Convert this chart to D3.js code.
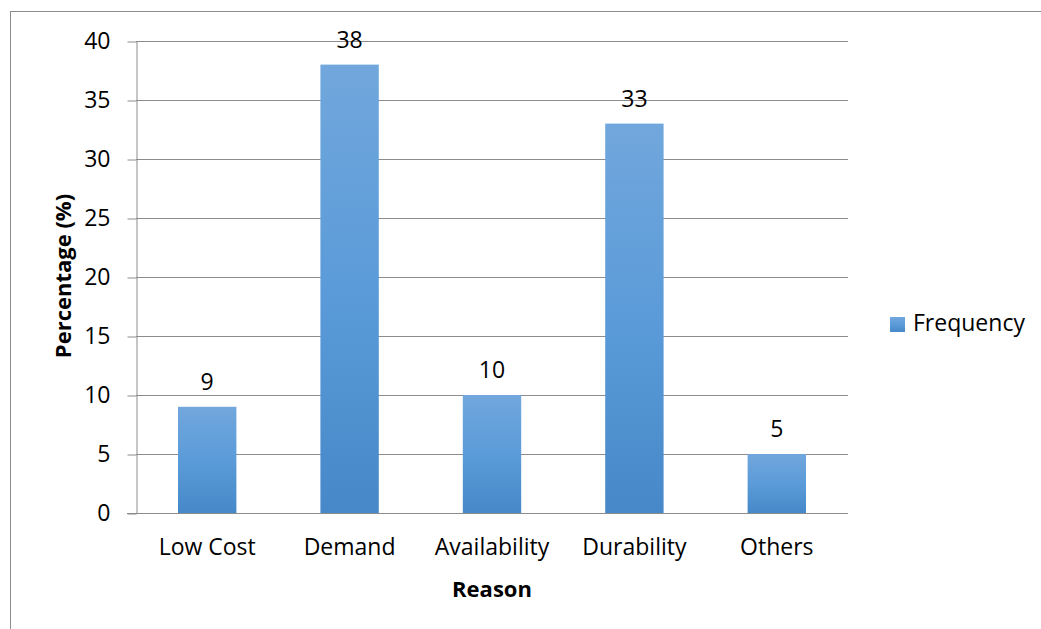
<!DOCTYPE html>
<html>
<head>
<meta charset="utf-8">
<script src="https://cdn.jsdelivr.net/npm/d3@7"></script>
<style>
  html, body { margin: 0; padding: 0; background: #fff; }
  svg { display: block; font-family: "Open Sans", sans-serif; }
</style>
</head>
<body>
<svg id="chart" width="1041" height="629"></svg>
<script>
// Reasons and their share of responses (%)
const categories = ["Low Cost", "Demand", "Availability", "Durability", "Others"];
const frequency = [9, 38, 10, 33, 5];
const yTicks = [0, 5, 10, 15, 20, 25, 30, 35, 40];
const seriesName = "Frequency";

const svg = d3.select("#chart");
const W = 1041, H = 629;
const plot = { left: 136, right: 848, top: 41, bottom: 513 };
const labelSize = 23;

// Outer chart frame
svg.append("rect")
  .attr("x", 10.5).attr("y", 11.5)
  .attr("width", W + 20).attr("height", H + 20)
  .attr("fill", "#fff").attr("stroke", "#8c8c8c").attr("stroke-width", 1);

// Bar gradient: lighter at the top, deeper blue at the base
const defs = svg.append("defs");
const grad = defs.append("linearGradient")
  .attr("id", "barFill").attr("x1", 0).attr("y1", 0).attr("x2", 0).attr("y2", 1);
grad.append("stop").attr("offset", "0%").attr("stop-color", "#71a7dc");
grad.append("stop").attr("offset", "50%").attr("stop-color", "#5b9bd9");
grad.append("stop").attr("offset", "100%").attr("stop-color", "#4688c8");

const x = d3.scaleBand()
  .domain(categories)
  .range([plot.left, plot.right])
  .paddingInner(0.59)
  .paddingOuter(0.295);

const y = d3.scaleLinear()
  .domain([0, 40])
  .range([plot.bottom, plot.top]);

// Horizontal gridlines
svg.append("g")
  .selectAll("line")
  .data(yTicks.filter(d => d > 0))
  .join("line")
  .attr("x1", plot.left).attr("x2", plot.right)
  .attr("y1", d => Math.round(y(d)) + 0.5).attr("y2", d => Math.round(y(d)) + 0.5)
  .attr("stroke", "#8c8c8c").attr("stroke-width", 1);

// Y axis with outward ticks
const yAxis = svg.append("g")
  .attr("transform", `translate(${plot.left + 0.5},0.5)`)
  .call(d3.axisLeft(y).tickValues(yTicks).tickSize(9).tickPadding(17).tickSizeOuter(0));
yAxis.select(".domain").attr("stroke", "#8c8c8c");
yAxis.selectAll(".tick line").attr("stroke", "#8c8c8c");
yAxis.selectAll(".tick text")
  .attr("font-family", "Open Sans, sans-serif")
  .attr("font-size", labelSize).attr("fill", "#000");

// X axis baseline
const xAxis = svg.append("g")
  .attr("transform", `translate(0,${plot.bottom + 0.5})`)
  .call(d3.axisBottom(x).tickSize(0).tickPadding(25).tickSizeOuter(0));
xAxis.select(".domain").attr("stroke", "#8c8c8c").attr("d", `M${plot.left - 9},0H${plot.right}`);
xAxis.selectAll(".tick text")
  .attr("font-family", "Open Sans, sans-serif")
  .attr("font-size", labelSize).attr("fill", "#000");

// Bars
svg.append("g")
  .selectAll("rect")
  .data(frequency)
  .join("rect")
  .attr("x", (d, i) => x(categories[i]))
  .attr("width", x.bandwidth())
  .attr("y", d => y(d))
  .attr("height", d => y(0) - y(d))
  .attr("fill", "url(#barFill)");

// Value labels above bars
svg.append("g")
  .selectAll("text")
  .data(frequency)
  .join("text")
  .attr("x", (d, i) => x(categories[i]) + x.bandwidth() / 2)
  .attr("y", d => y(d) - 17)
  .attr("text-anchor", "middle")
  .attr("font-size", labelSize)
  .attr("fill", "#000")
  .text(d => d);

// Axis titles
svg.append("text")
  .attr("transform", `translate(71,${(plot.top + plot.bottom) / 2 - 1}) rotate(-90)`)
  .attr("text-anchor", "middle")
  .attr("font-size", 22).attr("font-weight", "bold")
  .text("Percentage (%)");

svg.append("text")
  .attr("x", (plot.left + plot.right) / 2)
  .attr("y", 597)
  .attr("text-anchor", "middle")
  .attr("font-size", 22).attr("font-weight", "bold")
  .text("Reason");

// Legend
const legend = svg.append("g").attr("transform", "translate(890,317)");
legend.append("rect").attr("width", 15).attr("height", 15).attr("fill", "url(#barFill)");
legend.append("text").attr("x", 23).attr("y", 14)
  .attr("font-size", labelSize).attr("fill", "#000").text(seriesName);
</script>
</body>
</html>
